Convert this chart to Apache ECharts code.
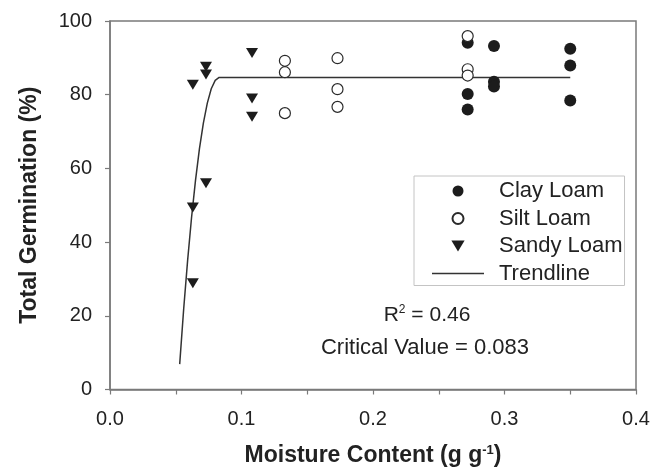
<!DOCTYPE html>
<html>
<head>
<meta charset="utf-8">
<script src="https://cdn.jsdelivr.net/npm/echarts@6.0.0/dist/echarts.min.js"></script>
<style>
  html, body { margin: 0; padding: 0; background: #fff; }
  #chart { width: 663px; height: 475px; }
</style>
</head>
<body>
<div id="chart"></div>
<script>
// Moisture content (g/g) and total germination (%) per soil type
var clayLoam = [
  [0.272, 94.1], [0.272, 80.2], [0.272, 76.0],
  [0.292, 93.2], [0.292, 83.5], [0.292, 82.2],
  [0.350, 92.5], [0.350, 87.9], [0.350, 78.4]
];
var siltLoam = [
  [0.133, 89.2], [0.133, 86.1], [0.133, 75.0],
  [0.173, 89.9], [0.173, 81.5], [0.173, 76.7],
  [0.272, 95.9], [0.272, 86.9], [0.272, 85.2]
];
var sandyLoam = [
  [0.063, 82.7], [0.063, 49.4], [0.063, 28.8],
  [0.073, 87.6], [0.073, 85.5], [0.073, 56.0],
  [0.108, 91.3], [0.108, 79.0], [0.108, 74.0]
];
// Quadratic-plateau trend
var trendline = [
  [0.053, 6.9], [0.056, 21.7], [0.059, 34.9], [0.062, 46.6],
  [0.065, 56.7], [0.068, 65.3], [0.071, 72.3], [0.074, 77.7],
  [0.077, 81.6], [0.080, 83.9], [0.083, 84.7], [0.350, 84.7]
];
var xTicks = { min: 0, max: 0.4, interval: 0.1 };
var yTicks = { min: 0, max: 100, interval: 20 };
var r2Text = 'R{sup|2} = 0.46';
var criticalText = 'Critical Value = 0.083';

var FONT = '"Liberation Sans", Arial, Helvetica, sans-serif';
var INK = '#222';
var AXIS = '#7a7a7a';
var downTriangle = 'path://M0,0 L12,0 L6,10 Z';
var lineIcon = 'path://M0,0 L52,0 L52,1.6 L0,1.6 Z';

var chart = echarts.init(document.getElementById('chart'), null, { renderer: 'canvas' });

chart.setOption({
  animation: false,
  textStyle: { fontFamily: FONT },
  grid: {
    left: 110, right: 27, top: 21, bottom: 85.5,
    show: true, borderColor: AXIS, borderWidth: 1.5, backgroundColor: 'transparent'
  },
  xAxis: {
    type: 'value',
    min: xTicks.min, max: xTicks.max, interval: xTicks.interval,
    name: 'Moisture Content (g g{sup|-1})',
    nameLocation: 'middle',
    nameGap: 54,
    nameTextStyle: {
      fontFamily: FONT, fontSize: 23, fontWeight: 'bold', color: INK,
      rich: { sup: { fontSize: 13, fontWeight: 'bold', color: INK, verticalAlign: 'top', padding: [0, 0, 11, 0] } }
    },
    axisLine: { show: true, lineStyle: { color: AXIS, width: 1.5 } },
    axisTick: { show: true, inside: false, length: 5, lineStyle: { color: AXIS, width: 1.2 } },
    minorTick: { show: true, splitNumber: 2, length: 5, lineStyle: { color: AXIS, width: 1.2 } },
    splitLine: { show: false },
    axisLabel: {
      fontFamily: FONT, fontSize: 20, color: INK, margin: 20,
      formatter: function (v) { return v.toFixed(1); }
    }
  },
  yAxis: {
    type: 'value',
    min: yTicks.min, max: yTicks.max, interval: yTicks.interval,
    name: 'Total Germination (%)',
    nameLocation: 'middle',
    nameGap: 69,
    nameTextStyle: { fontFamily: FONT, fontSize: 23, fontWeight: 'bold', color: INK },
    axisLine: { show: true, lineStyle: { color: AXIS, width: 1.5 } },
    axisTick: { show: true, inside: false, length: 5, lineStyle: { color: AXIS, width: 1.2 } },
    splitLine: { show: false },
    axisLabel: { fontFamily: FONT, fontSize: 20, color: INK, margin: 18 }
  },
  legend: {
    orient: 'vertical',
    left: 414, top: 176,
    padding: [4, 2, 1, 18],
    itemWidth: 52, itemHeight: 11, itemGap: 5.5,
    backgroundColor: '#fff',
    borderColor: '#c4c4c4', borderWidth: 1,
    selectedMode: false,
    textStyle: { fontFamily: FONT, fontSize: 22, color: INK, lineHeight: 22, padding: [0, 0, 0, 10] },
    data: [
      { name: 'Clay Loam' },
      { name: 'Silt Loam' },
      { name: 'Sandy Loam' },
      { name: 'Trendline', icon: lineIcon, itemStyle: { color: '#333' } }
    ]
  },
  graphic: [
    {
      type: 'text', x: 427, y: 315, silent: true,
      style: {
        text: r2Text, fill: INK, font: '21px ' + FONT,
        align: 'center', verticalAlign: 'middle',
        rich: { sup: { fontSize: 12, fill: INK, verticalAlign: 'top', padding: [0, 0, 10, 0] } }
      }
    },
    {
      type: 'text', x: 425, y: 348, silent: true,
      style: {
        text: criticalText, fill: INK, font: '22px ' + FONT,
        align: 'center', verticalAlign: 'middle'
      }
    }
  ],
  series: [
    {
      name: 'Trendline', type: 'line', data: trendline,
      symbol: 'none', smooth: false, z: 2,
      lineStyle: { color: '#333', width: 1.5 },
      itemStyle: { color: '#333' },
      emphasis: { disabled: true }
    },
    {
      name: 'Clay Loam', type: 'scatter', data: clayLoam,
      symbol: 'circle', symbolSize: 12, z: 3,
      itemStyle: { color: '#1c1c1c', opacity: 1 },
      emphasis: { disabled: true }
    },
    {
      name: 'Silt Loam', type: 'scatter', data: siltLoam,
      symbol: 'circle', symbolSize: 11, z: 4,
      itemStyle: { color: '#fff', borderColor: '#2a2a2a', borderWidth: 1.2, opacity: 1 },
      emphasis: { disabled: true }
    },
    {
      name: 'Sandy Loam', type: 'scatter', data: sandyLoam,
      symbol: downTriangle, symbolSize: [12, 10], z: 3,
      itemStyle: { color: '#1c1c1c', opacity: 1 },
      emphasis: { disabled: true }
    }
  ]
});
</script>
</body>
</html>
